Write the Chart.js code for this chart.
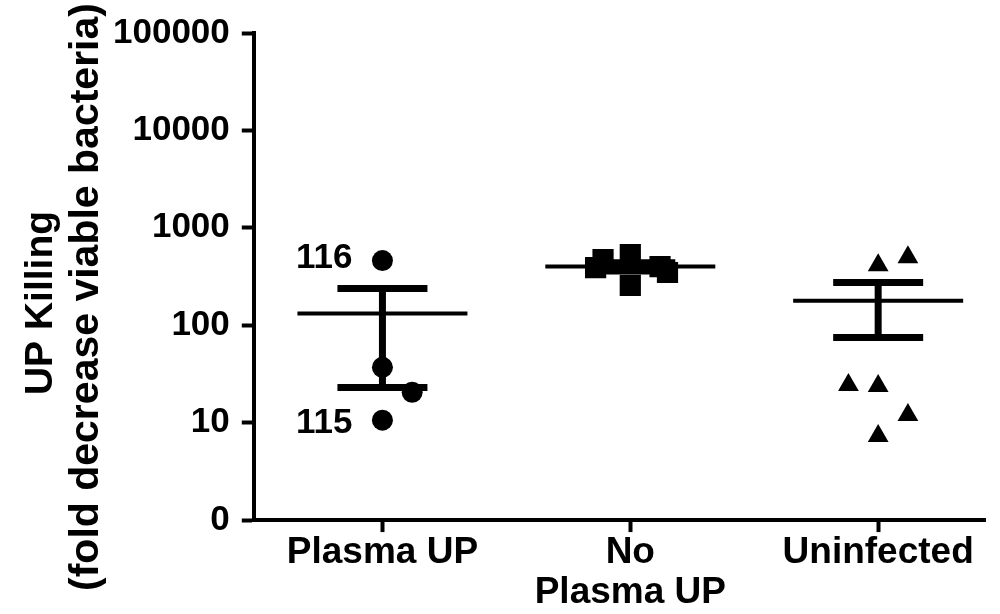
<!DOCTYPE html>
<html><head><meta charset="utf-8">
<script src="https://cdn.jsdelivr.net/npm/chart.js@4.4.0/dist/chart.umd.min.js"></script>
<style>html,body{margin:0;padding:0;background:#fff;} #wrap{width:1000px;height:614px;}</style>
</head><body><div id="wrap"><canvas id="c" width="1000" height="614"></canvas></div>
<script>
// ---- data ----
const categories = ['Plasma UP', ['No', 'Plasma UP'], 'Uninfected'];
const yTickValues = [1, 10, 100, 1000, 10000, 100000];
const yTickLabels = ['0', '10', '100', '1000', '10000', '100000'];
const yTitleLines = ['UP Killing', '(fold decrease viable bacteria)'];

const plasmaUP = [461, 37, 20.5, 10.6];
const plasmaUPJitter = [0, 0, 0.12, 0];
const noPlasmaUP = [391, 472, 531, 256, 400, 348];
const noPlasmaUPJitter = [-0.14, -0.11, 0, 0, 0.12, 0.15];
const uninfected = [413, 499, 24.3, 23.8, 12.0, 7.3];
const uninfectedJitter = [0, 0.12, -0.12, 0, 0.12, 0];

const groupMeans = [132, 400, 178];
const groupUpper = [238, 439, 275];
const groupLower = [23, 361, 75];

const pointLabels = [{dataset: 0, index: 0, text: '116'}, {dataset: 0, index: 3, text: '115'}];

// ---- styling ----
const FONT = "'Liberation Sans', Arial, Helvetica, sans-serif";
const labelBaselineOffsets = [7, 13];

function toPoints(values, jitter, groupIndex) {
  return values.map((v, i) => ({x: groupIndex + jitter[i], y: v}));
}

const summaryPlugin = {
  id: 'summary',
  afterDatasetsDraw(chart) {
    const {ctx} = chart;
    const xs = chart.scales.x, ys = chart.scales.y;
    ctx.save();
    ctx.strokeStyle = '#000';
    ctx.lineCap = 'butt';
    groupMeans.forEach((m, i) => {
      const cx = xs.getPixelForValue(i);
      const ym = ys.getPixelForValue(m);
      const yu = ys.getPixelForValue(groupUpper[i]);
      const yl = ys.getPixelForValue(groupLower[i]);
      ctx.lineWidth = 7;
      ctx.beginPath(); ctx.moveTo(cx, yu); ctx.lineTo(cx, yl); ctx.stroke();
      ctx.beginPath();
      ctx.moveTo(cx - 45, yu); ctx.lineTo(cx + 45, yu);
      ctx.moveTo(cx - 45, yl); ctx.lineTo(cx + 45, yl);
      ctx.stroke();
      ctx.lineWidth = 4;
      ctx.beginPath(); ctx.moveTo(cx - 85, ym); ctx.lineTo(cx + 85, ym); ctx.stroke();
    });
    // point annotations
    ctx.fillStyle = '#000';
    ctx.font = 'bold 35px ' + FONT;
    ctx.textAlign = 'right';
    ctx.textBaseline = 'alphabetic';
    pointLabels.forEach((p, k) => {
      const el = chart.getDatasetMeta(p.dataset).data[p.index];
      ctx.fillText(p.text, el.x - 30, el.y + labelBaselineOffsets[k]);
    });
    // y-axis title
    ctx.textAlign = 'center';
    const sizes = [39, 41];
    const baselines = [52, 98];
    const centers = [303, 297];
    yTitleLines.forEach((line, k) => {
      ctx.save();
      ctx.font = 'bold ' + sizes[k] + 'px ' + FONT;
      ctx.translate(baselines[k], centers[k]);
      ctx.rotate(-Math.PI / 2);
      ctx.fillText(line, 0, 0);
      ctx.restore();
    });
    ctx.restore();
  }
};

const pointBase = {backgroundColor: '#000', borderColor: '#000', borderWidth: 0};

new Chart(document.getElementById('c'), {
  type: 'scatter',
  data: {
    datasets: [
      Object.assign({label: 'Plasma UP', data: toPoints(plasmaUP, plasmaUPJitter, 0), pointStyle: 'circle', pointRadius: 10.5}, pointBase),
      Object.assign({label: 'No Plasma UP', data: toPoints(noPlasmaUP, noPlasmaUPJitter, 1), pointStyle: 'rect', pointRadius: 15}, pointBase),
      Object.assign({label: 'Uninfected', data: toPoints(uninfected, uninfectedJitter, 2), pointStyle: 'triangle', pointRadius: 12}, pointBase)
    ]
  },
  options: {
    responsive: false,
    animation: false,
    events: [],
    layout: {padding: {left: 101, top: 29, right: 0, bottom: 0}},
    plugins: {legend: {display: false}, tooltip: {enabled: false}},
    scales: {
      x: {
        type: 'linear',
        min: -0.519,
        max: 2.431,
        afterBuildTicks(scale) { scale.ticks = categories.map((c, i) => ({value: i})); },
        ticks: {
          color: '#000',
          padding: 1,
          maxRotation: 0,
          autoSkip: false,
          font: {family: FONT, size: 37, weight: 'bold', lineHeight: 1.08},
          callback: (v) => categories[v]
        },
        grid: {drawOnChartArea: false, drawTicks: true, tickLength: 12, tickWidth: 4, tickColor: '#000'},
        border: {display: true, color: '#000', width: 4}
      },
      y: {
        type: 'logarithmic',
        min: 1,
        max: 100000,
        afterBuildTicks(scale) { scale.ticks = yTickValues.map(v => ({value: v})); },
        ticks: {
          color: '#000',
          padding: 12,
          autoSkip: false,
          font: {family: FONT, size: 35, weight: 'bold'},
          callback: (v) => yTickLabels[yTickValues.indexOf(v)]
        },
        grid: {drawOnChartArea: false, drawTicks: true, tickLength: 12, tickWidth: 4, tickColor: '#000'},
        border: {display: true, color: '#000', width: 4}
      }
    }
  },
  plugins: [summaryPlugin]
});
</script>
</body></html>
